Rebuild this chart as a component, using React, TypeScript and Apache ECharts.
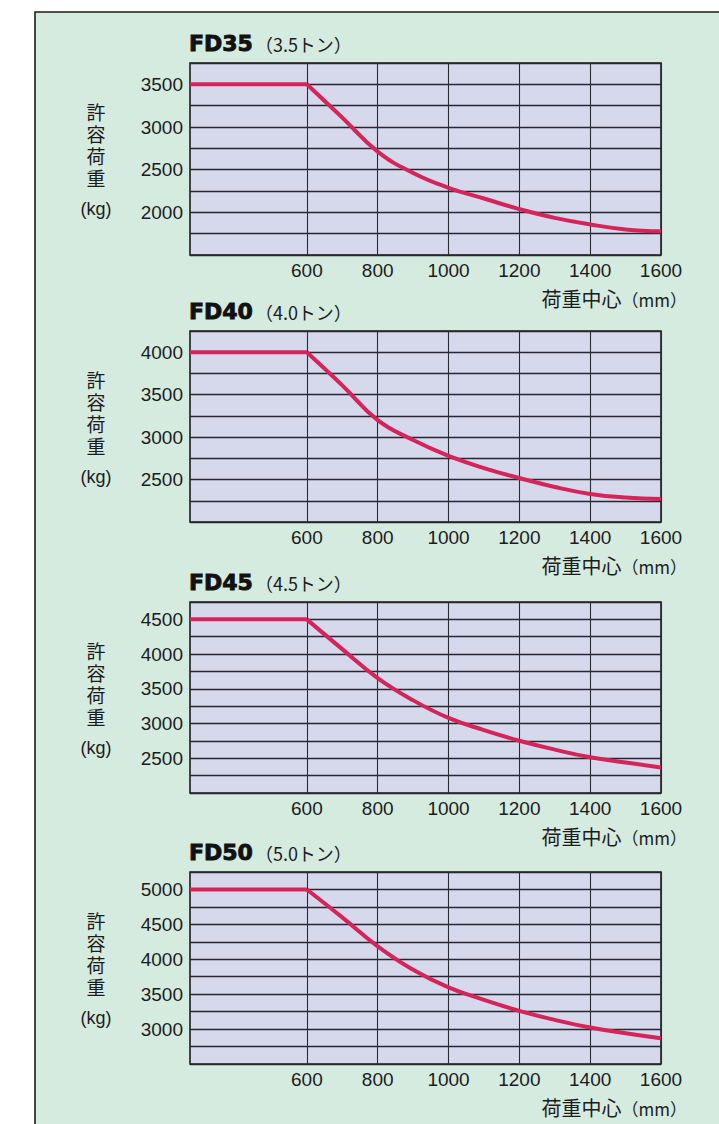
import React, { useEffect, useRef } from "react";
import * as echarts from "echarts";

// ---- data ----
const X_VALUES = [600, 700, 800, 900, 1000, 1100, 1200, 1300, 1400, 1500, 1600];
const X_TICKS = [600, 800, 1000, 1200, 1400, 1600];
const X_MIN = 270;
const X_MAX = 1600;

const MODELS = ["FD35", "FD40", "FD45", "FD50"];
const CAPACITY_TEXT = ["（3.5トン）", "（4.0トン）", "（4.5トン）", "（5.0トン）"];

const FD35_LOAD = [3500, 3110, 2712, 2462, 2288, 2162, 2038, 1935, 1858, 1800, 1777];
const FD40_LOAD = [4000, 3610, 3200, 2966, 2779, 2635, 2518, 2413, 2331, 2288, 2272];
const FD45_LOAD = [4500, 4071, 3653, 3334, 3081, 2905, 2753, 2625, 2515, 2439, 2367];
const FD50_LOAD = [5000, 4600, 4186, 3850, 3597, 3419, 3261, 3132, 3022, 2940, 2868];

const FD35_Y_RANGE = [1500, 3750];
const FD40_Y_RANGE = [2000, 4250];
const FD45_Y_RANGE = [2000, 4750];
const FD50_Y_RANGE = [2500, 5250];

const FD35_Y_LABELS = [2000, 2500, 3000, 3500];
const FD40_Y_LABELS = [2500, 3000, 3500, 4000];
const FD45_Y_LABELS = [2500, 3000, 3500, 4000, 4500];
const FD50_Y_LABELS = [3000, 3500, 4000, 4500, 5000];

const Y_STEP = 250;

const Y_NAME_CHARS = ["許", "容", "荷", "重"];
const Y_UNIT = "(kg)";
const X_NAME = "荷重中心";
const X_UNIT = "（mm）";

// ---- layout / style ----
const LOADS = [FD35_LOAD, FD40_LOAD, FD45_LOAD, FD50_LOAD];
const Y_RANGES = [FD35_Y_RANGE, FD40_Y_RANGE, FD45_Y_RANGE, FD50_Y_RANGE];
const Y_LABELS = [FD35_Y_LABELS, FD40_Y_LABELS, FD45_Y_LABELS, FD50_Y_LABELS];
const PANELS = [
  { top: 63, height: 192 },
  { top: 331, height: 191 },
  { top: 602, height: 191 },
  { top: 872, height: 192 },
];
const GRID_LEFT = 190;
const GRID_WIDTH = 471;
const INK = "#1c1c1c";
const LINE_RED = "#d5245a";
const PLOT_BG = "#d6d9ec";
const PANEL_BG = "#d5ebe0";
const NUM_FONT = "'Liberation Sans', Arial, Helvetica, sans-serif";
const JP_FONT = "'Noto Sans CJK JP', sans-serif";
const STACK_FONT = "'Liberation Sans', 'Noto Sans CJK JP', sans-serif";

export default function App() {
  const ref = useRef<HTMLDivElement>(null);

  useEffect(() => {
    if (!ref.current) return;
    const chart = echarts.init(ref.current, undefined, { renderer: "svg" });

    const grid: any[] = [];
    const xAxis: any[] = [];
    const yAxis: any[] = [];
    const series: any[] = [];
    const graphic: any[] = [
      {
        type: "rect",
        z: -100,
        shape: { x: 35, y: 12, width: 720, height: 1140 },
        style: { fill: PANEL_BG, stroke: INK, lineWidth: 1.6 },
      },
    ];

    PANELS.forEach((p, i) => {
      const loads = LOADS[i];
      const [yMin, yMax] = Y_RANGES[i];
      grid.push({
        left: GRID_LEFT,
        top: p.top,
        width: GRID_WIDTH,
        height: p.height,
        show: true,
        backgroundColor: PLOT_BG,
        borderColor: INK,
        borderWidth: 1.6,
        containLabel: false,
        outerBoundsMode: "none",
      });
      xAxis.push({
        type: "value",
        gridIndex: i,
        min: X_MIN,
        max: X_MAX,
        axisLine: { show: false },
        axisTick: { show: false, customValues: X_TICKS },
        axisLabel: {
          customValues: X_TICKS,
          formatter: (v: number) => String(v),
          fontSize: 19,
          fontFamily: NUM_FONT,
          color: INK,
          margin: 6,
        },
        splitLine: { show: true, lineStyle: { color: "#2b2b33", width: 1.1 } },
      });
      yAxis.push({
        type: "value",
        gridIndex: i,
        min: yMin,
        max: yMax,
        interval: Y_STEP,
        axisLine: { show: false },
        axisTick: { show: false },
        axisLabel: {
          customValues: Y_LABELS[i],
          formatter: (v: number) => String(v),
          fontSize: 19,
          fontFamily: NUM_FONT,
          color: INK,
          margin: 7,
        },
        splitLine: { show: true, lineStyle: { color: "#26262e", width: 1.3 } },
      });
      series.push({
        type: "line",
        xAxisIndex: i,
        yAxisIndex: i,
        data: [
          [X_MIN, loads[0]],
          [X_VALUES[0], loads[0]],
        ],
        symbol: "none",
        lineStyle: { color: LINE_RED, width: 4 },
        z: 3,
      });
      series.push({
        type: "line",
        xAxisIndex: i,
        yAxisIndex: i,
        data: X_VALUES.map((x, j) => [x, loads[j]]),
        symbol: "none",
        smooth: 0.45,
        lineStyle: { color: LINE_RED, width: 4 },
        z: 3,
      });

      const bottom = p.top + p.height;
      graphic.push({
        type: "text",
        x: GRID_LEFT - 1,
        y: p.top - 20,
        style: {
          text: `{m|${MODELS[i]}}{c|${CAPACITY_TEXT[i]}}`,
          verticalAlign: "middle",
          align: "left",
          rich: {
            m: {
              fontFamily: "'DejaVu Sans', sans-serif",
              fontWeight: "bold",
              fontSize: 22,
              fill: "#111",
              stroke: "#111",
              lineWidth: 0.9,
            },
            c: { fontFamily: JP_FONT, fontSize: 18, fill: INK, padding: [2, 0, 0, 2] },
          },
        },
      });
      Y_NAME_CHARS.forEach((ch, k) => {
        graphic.push({
          type: "text",
          x: 96,
          y: p.top + 50 + k * 22,
          style: {
            text: ch,
            align: "center",
            verticalAlign: "middle",
            fontFamily: STACK_FONT,
            fontSize: 19,
            lineHeight: 20,
            fill: INK,
          },
        });
      });
      graphic.push({
        type: "text",
        x: 96,
        y: p.top + 146,
        style: {
          text: Y_UNIT,
          align: "center",
          verticalAlign: "middle",
          fontFamily: NUM_FONT,
          fontSize: 18,
          fill: INK,
        },
      });
      graphic.push({
        type: "text",
        x: 687,
        y: bottom + 43,
        style: {
          text: `{a|${X_NAME}}{b|${X_UNIT}}`,
          align: "right",
          verticalAlign: "middle",
          rich: {
            a: { fontFamily: JP_FONT, fontSize: 20, fill: INK },
            b: { fontFamily: JP_FONT, fontSize: 17, fill: INK, padding: [2, 0, 0, 0] },
          },
        },
      });
    });

    chart.setOption({
      animation: false,
      backgroundColor: "#ffffff",
      grid,
      xAxis,
      yAxis,
      series,
      graphic,
    });

    return () => chart.dispose();
  }, []);

  return (
    <div
      ref={ref}
      style={{ position: "absolute", left: 0, top: 0, width: 719, height: 1124 }}
    />
  );
}
